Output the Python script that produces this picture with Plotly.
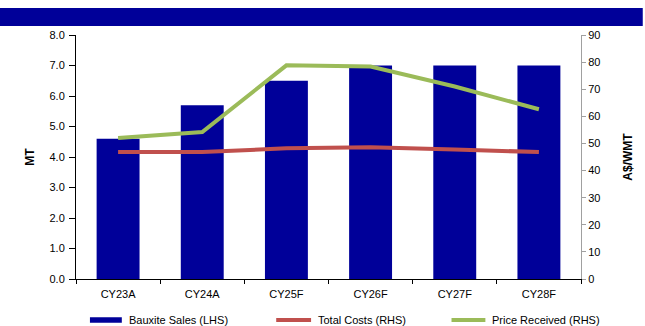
import plotly.graph_objects as go

categories = ["CY23A", "CY24A", "CY25F", "CY26F", "CY27F", "CY28F"]
bauxite_sales = [4.6, 5.7, 6.5, 7.0, 7.0, 7.0]
total_costs = [46.8, 46.8, 48.2, 48.6, 47.8, 46.8]
price_received = [52.0, 54.2, 78.8, 78.4, 71.0, 62.6]
legend_names = ["Bauxite Sales (LHS)", "Total Costs (RHS)", "Price Received (RHS)"]

FONT = "Liberation Sans, Arial, sans-serif"
BLUE = "#000099"
RED = "#C0504D"
GREEN = "#9BBB59"

W, H = 645, 326
ML, MR, MT, MB = 76, 62, 35, 47
PW, PH = W - ML - MR, H - MT - MB


def px(x):
    return (x - ML) / PW


def py(y):
    return (H - MB - y) / PH


fig = go.Figure()
fig.add_trace(go.Bar(x=categories, y=bauxite_sales, name=legend_names[0],
                     marker=dict(color=BLUE, line=dict(width=0)), yaxis="y"))
fig.add_trace(go.Scatter(x=categories, y=total_costs, name=legend_names[1],
                         mode="lines", line=dict(color=RED, width=4), yaxis="y2"))
fig.add_trace(go.Scatter(x=categories, y=price_received, name=legend_names[2],
                         mode="lines", line=dict(color=GREEN, width=4), yaxis="y2"))

# manual legend (plotly's own legend would push the bottom margin)
shapes = [
    dict(type="rect", xref="paper", yref="paper", x0=px(-5), x1=px(W),
         y0=py(26), y1=py(8), fillcolor=BLUE, line=dict(width=0), layer="above"),
    dict(type="rect", xref="paper", yref="paper", x0=px(90), x1=px(122),
         y0=py(322.7), y1=py(317.3), fillcolor=BLUE, line=dict(width=0)),
    dict(type="line", xref="paper", yref="paper", x0=px(277), x1=px(312),
         y0=py(320), y1=py(320), line=dict(color=RED, width=4)),
    dict(type="line", xref="paper", yref="paper", x0=px(453), x1=px(487),
         y0=py(320), y1=py(320), line=dict(color=GREEN, width=4)),
]
annotations = []
for name, xs in zip(legend_names, [127, 317, 492]):
    annotations.append(dict(text=name, xref="paper", yref="paper", x=px(xs), y=py(320),
                            xanchor="left", yanchor="middle", showarrow=False,
                            font=dict(size=11, family=FONT, color="black")))

fig.update_layout(
    width=W, height=H,
    margin=dict(l=ML, r=MR, t=MT, b=MB),
    paper_bgcolor="white", plot_bgcolor="white",
    font=dict(family=FONT, size=11, color="#000000"),
    bargap=0.49,
    showlegend=False,
    xaxis=dict(type="category", showline=True, linecolor="black", linewidth=1,
               ticks="outside", ticklen=4, tickcolor="black", tickson="boundaries",
               showgrid=False, tickfont=dict(size=11), ticklabelstandoff=5),
    yaxis=dict(range=[0, 8], dtick=1, tickformat=".1f", showline=True, linecolor="black",
               linewidth=1, ticks="outside", ticklen=6, tickcolor="black", showgrid=False,
               zeroline=False, ticklabelstandoff=2,
               title=dict(text="<b>MT</b>", font=dict(size=12), standoff=12),
               tickfont=dict(size=11)),
    yaxis2=dict(range=[0, 90], dtick=10, overlaying="y", side="right", showline=True,
                linecolor="#A0A0A0", linewidth=1, ticks="outside", ticklen=4,
                tickcolor="#A0A0A0", showgrid=False, zeroline=False,
                title=dict(text="<b>A$/WMT</b>", font=dict(size=12), standoff=24),
                tickfont=dict(size=11)),
    shapes=shapes,
    annotations=annotations,
)

fig.write_html("out.html")
